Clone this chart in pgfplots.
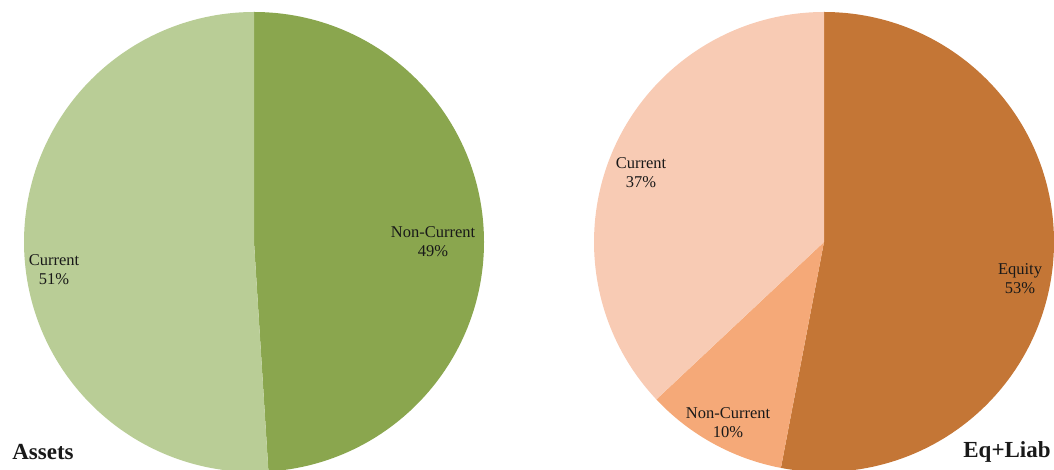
\documentclass[border=0pt]{standalone}
\usepackage{pgfplots}
\usepackage{pgfplotstable}
\pgfplotsset{compat=1.18}
\usepackage{fontspec}
\setmainfont{Liberation Serif}

\definecolor{gLight}{RGB}{185,205,150}
\definecolor{gDark}{RGB}{138,166,78}
\definecolor{oDark}{RGB}{196,118,54}
\definecolor{oMid}{RGB}{245,169,120}
\definecolor{oLight}{RGB}{248,203,180}

% Assets: Non-Current, Current
\pgfplotstableread{
label pct
NonCurrent 49
Current 51
}\assets
% Eq+Liab: Equity, Non-Current, Current
\pgfplotstableread{
label pct
Equity 53
NonCurrent 10
Current 37
}\eqliab

\pgfplotstablegetelem{0}{pct}\of\assets \let\aNC\pgfplotsretval
\pgfplotstablegetelem{1}{pct}\of\assets \let\aC\pgfplotsretval
\pgfplotstablegetelem{0}{pct}\of\eqliab \let\eE\pgfplotsretval
\pgfplotstablegetelem{1}{pct}\of\eqliab \let\eNC\pgfplotsretval
\pgfplotstablegetelem{2}{pct}\of\eqliab \let\eC\pgfplotsretval

\pgfmathsetmacro{\aOne}{90-3.6*\aNC}
\pgfmathsetmacro{\aTwo}{\aOne-3.6*\aC}
\pgfmathsetmacro{\eOne}{90-3.6*\eE}
\pgfmathsetmacro{\eTwo}{\eOne-3.6*\eNC}
\pgfmathsetmacro{\eThree}{\eTwo-3.6*\eC}

\newcommand{\slice}[5]{%
  \fill[#5] (axis cs:#1,#2) -- ++(#3:230pt) arc[start angle=#3, end angle=#4, radius=230pt] -- cycle;}

\tikzset{lbl/.style={font=\fontsize{16.5}{19}\selectfont, align=center, text=black!90, inner sep=0pt},
         ttl/.style={font=\fontsize{23}{26}\selectfont\bfseries, text=black!90, inner sep=0pt}}

\begin{document}
\begin{tikzpicture}
\begin{axis}[
  name=a,
  width=1054pt, height=470pt, scale only axis,
  xmin=0, xmax=1054, ymin=0, ymax=470,
  hide axis, clip=true,
]
\addplot[draw=none] coordinates {(0,0) (1054,470)};
\slice{254}{228}{90}{\aOne}{gDark}
\slice{254}{228}{\aOne}{\aTwo}{gLight}
\slice{824}{228}{90}{\eOne}{oDark}
\slice{824}{228}{\eOne}{\eTwo}{oMid}
\slice{824}{228}{\eTwo}{\eThree}{oLight}

\node[lbl] at (axis cs:54,200.5) {Current\\\aC\%};
\node[lbl] at (axis cs:433,228) {Non-Current\\\aNC\%};
\node[lbl] at (axis cs:641,297.5) {Current\\\eC\%};
\node[lbl] at (axis cs:728,47.5) {Non-Current\\\eNC\%};
\node[lbl] at (axis cs:1020,191.5) {Equity\\\eE\%};
\node[ttl] at (axis cs:43,18) {Assets};
\node[ttl] at (axis cs:1007,18) {Eq+Liab};
\end{axis}
\pgfresetboundingbox
\path (a.south west) rectangle (a.north east);
\end{tikzpicture}
\end{document}
